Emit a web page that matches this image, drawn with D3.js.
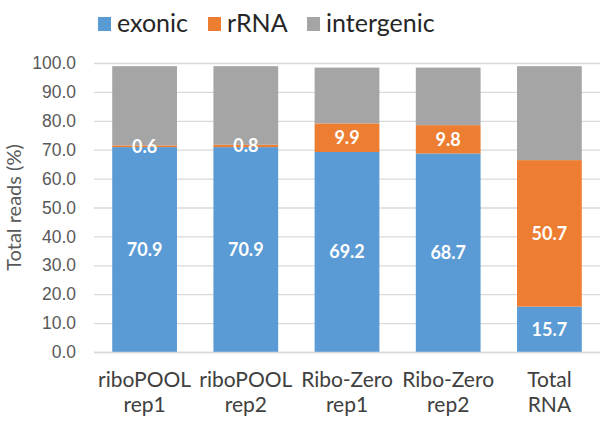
<!DOCTYPE html>
<html>
<head>
<meta charset="utf-8">
<script src="https://cdn.jsdelivr.net/npm/d3@7"></script>
<style>
  body { margin: 0; background: #fff; }
  svg { font-family: Lato, "Open Sans", sans-serif; }
  .axis text { fill: #595959; font-size: 17.5px; }
  .grid line { stroke: #d9d9d9; stroke-width: 1.3; }
  .bar-label { fill: #fff; font-weight: bold; font-size: 18px; text-anchor: middle; }
</style>
</head>
<body>
<svg width="600" height="424"></svg>
<script>
// data
var categories = [["riboPOOL", "rep1"], ["riboPOOL", "rep2"], ["Ribo-Zero", "rep1"], ["Ribo-Zero", "rep2"], ["Total", "RNA"]];
var seriesNames = ["exonic", "rRNA", "intergenic"];
var exonic = [70.9, 70.9, 69.2, 68.7, 15.7];
var rRNA = [0.6, 0.8, 9.9, 9.8, 50.7];
var intergenic = [27.4, 27.2, 19.3, 19.9, 32.5];
var yTicks = [0, 10, 20, 30, 40, 50, 60, 70, 80, 90, 100];
var colors = ["#5b9bd5", "#ed7d31", "#a5a5a5"];

var svg = d3.select("svg"),
    margin = {top: 63, right: 0, bottom: 72, left: 94},
    width = +svg.attr("width") - margin.left - margin.right,
    height = +svg.attr("height") - margin.top - margin.bottom;

var rows = categories.map(function(c, i) {
  return {name: c.join(" "), lines: c, exonic: exonic[i], rRNA: rRNA[i], intergenic: intergenic[i]};
});

var x = d3.scaleBand().domain(rows.map(function(d){return d.name;})).range([0, width]).paddingInner(0.36).paddingOuter(0.18),
    y = d3.scaleLinear().domain([0, 100]).range([height, 0]),
    color = d3.scaleOrdinal().domain(seriesNames).range(colors);

var g = svg.append("g")
    .attr("transform", "translate(" + margin.left + "," + margin.top + ")");

// gridlines
g.append("g")
    .attr("class", "grid")
    .selectAll("line").data(yTicks).enter().append("line")
    .attr("x1", 0)
    .attr("x2", width)
    .attr("y1", function(d){return y(d)+0.5;})
    .attr("y2", function(d){return y(d)+0.5;});

var yAxis = g.append("g")
    .attr("class", "axis axis--y")
    .call(d3.axisLeft(y).tickValues(yTicks).tickSize(0).tickPadding(18).tickFormat(d3.format(".1f")));
yAxis.select(".domain").remove();

var stack = d3.stack().keys(seriesNames)(rows);

var layers = g.selectAll(".layer").data(stack).enter().append("g")
    .attr("class", "layer")
    .attr("fill", function(d){return color(d.key);});

layers.selectAll("rect").data(function(d){return d;}).enter().append("rect")
    .attr("x", function(d){return x(d.data.name);})
    .attr("y", function(d){return y(d[1]);})
    .attr("width", x.bandwidth())
    .attr("height", function(d){return y(d[0]) - y(d[1]);});

// value labels for exonic and rRNA only, drawn above all rects
var labelLayers = g.selectAll(".label-layer").data(stack.filter(function(d){return d.key != "intergenic";}))
  .enter().append("g").attr("class", "label-layer");

labelLayers.selectAll(".bar-label").data(function(d){return d;}).enter().append("text")
    .attr("class", "bar-label")
    .attr("x", function(d){return x(d.data.name) + x.bandwidth()/2;})
    .attr("y", function(d){return y((d[0] + d[1]) / 2);})
    .attr("dy", "0.36em")
    .text(function(d){return (d[1] - d[0]).toFixed(1);});

// x axis baseline and two-line labels
g.append("line")
    .attr("x1", 0).attr("x2", width)
    .attr("y1", height + 0.5).attr("y2", height + 0.5)
    .attr("stroke", "#d9d9d9").attr("stroke-width", 1.3);

var xl = g.selectAll(".xlab").data(rows).enter().append("text")
    .attr("class", "xlab")
    .attr("text-anchor", "middle")
    .attr("fill", "#404040")
    .attr("font-size", "21px")
    .attr("transform", function(d){return "translate(" + (x(d.name) + x.bandwidth()/2) + "," + (height + 35) + ")";});
xl.selectAll("tspan").data(function(d){return d.lines;}).enter().append("tspan")
    .attr("x", 0)
    .attr("dy", function(d, i){return i ? 25 : 0;})
    .text(function(d){return d;});

// y title
svg.append("text")
    .attr("transform", "translate(21," + (margin.top + height/2) + ") rotate(-90)")
    .attr("text-anchor", "middle")
    .attr("fill", "#595959")
    .attr("font-size", "20px")
    .text("Total reads (%)");

// legend
var legendX = [98, 208, 307];
var legend = svg.selectAll(".legend").data(seriesNames).enter().append("g")
    .attr("class", "legend")
    .attr("transform", function(d, i){return "translate(" + legendX[i] + ",17)";});
legend.append("rect")
    .attr("width", 13).attr("height", 14)
    .attr("fill", function(d){return color(d);});
legend.append("text")
    .attr("x", 19).attr("y", 15)
    .attr("fill", "#262626")
    .attr("font-size", "25px")
    .text(function(d){return d;});
</script>
</body>
</html>
